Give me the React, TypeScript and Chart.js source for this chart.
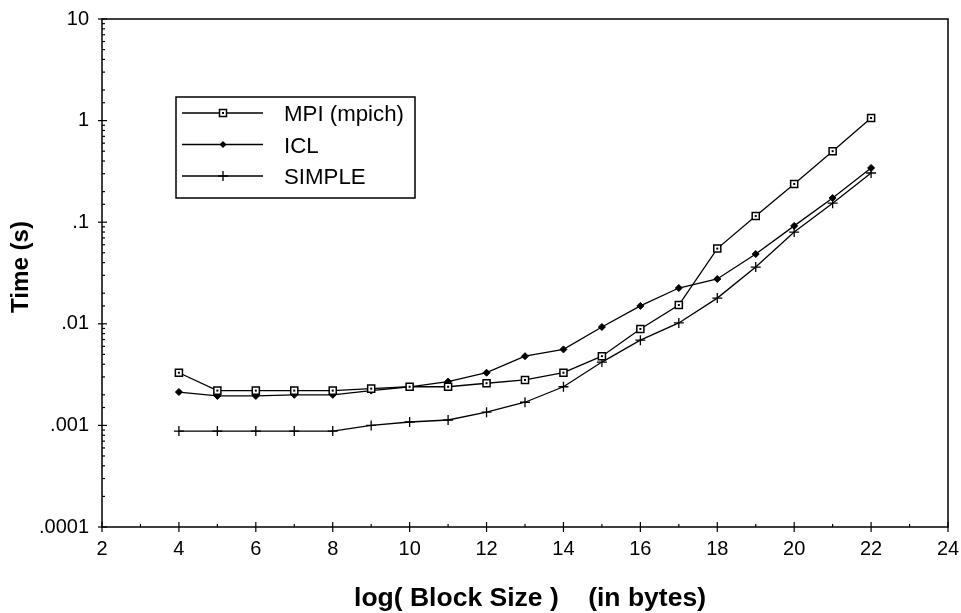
import React, { useEffect, useRef } from "react";
import { Chart, registerables } from "chart.js";

Chart.register(...registerables);

const blockSizes = [4, 5, 6, 7, 8, 9, 10, 11, 12, 13, 14, 15, 16, 17, 18, 19, 20, 21, 22];
const mpiTimes = [0.0033, 0.0022, 0.0022, 0.0022, 0.0022, 0.0023, 0.0024, 0.0024, 0.0026, 0.0028, 0.0033, 0.0048, 0.0089, 0.0153, 0.055, 0.115, 0.238, 0.5, 1.06];
const iclTimes = [0.00213, 0.00195, 0.00195, 0.002, 0.002, 0.0022, 0.0024, 0.0027, 0.0033, 0.0048, 0.0056, 0.0093, 0.015, 0.0225, 0.0276, 0.0486, 0.092, 0.173, 0.342];
const simpleTimes = [0.00088, 0.00088, 0.00088, 0.00088, 0.00088, 0.001, 0.00108, 0.00113, 0.00135, 0.00169, 0.0024, 0.0042, 0.0069, 0.0102, 0.0179, 0.0362, 0.08, 0.154, 0.305];
const seriesLabels = ["MPI (mpich)", "ICL", "SIMPLE"];
const xTickLabels = ["2", "4", "6", "8", "10", "12", "14", "16", "18", "20", "22", "24"];
const yTickLabels = [".0001", ".001", ".01", ".1", "1", "10"];
const xTitle = "log( Block Size )    (in bytes)";
const yTitle = "Time (s)";

const FONT = "'Liberation Sans', Arial, sans-serif";

const toPoints = (vals: number[]) => vals.map((v, i) => ({ x: blockSizes[i], y: v }));

function fitFont(ctx: CanvasRenderingContext2D, text: string, weight: string, target: number) {
  ctx.font = `${weight} 20px ${FONT}`;
  const w = ctx.measureText(text).width;
  const size = (20 * target) / w;
  ctx.font = `${weight} ${size.toFixed(2)}px ${FONT}`;
}

function drawMarker(ctx: CanvasRenderingContext2D, style: string, x: number, y: number) {
  ctx.save();
  ctx.strokeStyle = "#000";
  if (style === "rect") {
    ctx.lineWidth = 1.5;
    ctx.fillStyle = "#fff";
    ctx.fillRect(x - 3.5, y - 3.5, 7, 7);
    ctx.strokeRect(x - 3.5, y - 3.5, 7, 7);
    ctx.fillStyle = "#000";
    ctx.fillRect(x - 1, y - 1, 2, 2);
  } else if (style === "rectRot") {
    ctx.fillStyle = "#000";
    ctx.beginPath();
    ctx.moveTo(x, y - 3.5);
    ctx.lineTo(x + 3.5, y);
    ctx.lineTo(x, y + 3.5);
    ctx.lineTo(x - 3.5, y);
    ctx.closePath();
    ctx.fill();
  } else {
    ctx.lineWidth = 1.3;
    ctx.beginPath();
    ctx.moveTo(x - 5, y);
    ctx.lineTo(x + 5, y);
    ctx.moveTo(x, y - 5);
    ctx.lineTo(x, y + 5);
    ctx.stroke();
  }
  ctx.restore();
}

const framePlugin = {
  id: "frame",
  afterDraw(chart: any) {
    const { ctx, chartArea } = chart;
    const { left, right, top, bottom } = chartArea;
    ctx.save();
    ctx.strokeStyle = "#000";
    ctx.lineWidth = 1.5;
    ctx.strokeRect(left, top, right - left, bottom - top);

    // y ticks
    const ys = chart.scales.y;
    ctx.lineWidth = 1.2;
    ys.ticks.forEach((t: any) => {
      const p = ys.getPixelForValue(t.value);
      const lg = Math.log10(t.value);
      const major = Math.abs(lg - Math.round(lg)) < 1e-6;
      ctx.beginPath();
      ctx.moveTo(left - (major ? 4 : 0), p);
      ctx.lineTo(left + (major ? 5 : 3), p);
      ctx.stroke();
    });
    // x ticks
    const xs = chart.scales.x;
    xs.ticks.forEach((t: any) => {
      const p = xs.getPixelForValue(t.value);
      const major = t.value % 2 === 0;
      ctx.beginPath();
      ctx.moveTo(p, bottom + (major ? 5 : 0));
      ctx.lineTo(p, bottom - (major ? 5 : 3));
      ctx.stroke();
    });

    // axis titles
    ctx.fillStyle = "#000";
    ctx.textAlign = "center";
    ctx.textBaseline = "middle";
    fitFont(ctx, xTitle, "bold", 352);
    ctx.fillText(xTitle, 530, 599);
    ctx.save();
    ctx.translate(21, 267);
    ctx.rotate(-Math.PI / 2);
    fitFont(ctx, yTitle, "bold", 92);
    ctx.fillText(yTitle, 0, 0);
    ctx.restore();

    // legend
    const bx = 176, by = 97, bw = 239, bh = 101;
    ctx.fillStyle = "#fff";
    ctx.fillRect(bx, by, bw, bh);
    ctx.lineWidth = 1.5;
    ctx.strokeStyle = "#000";
    ctx.strokeRect(bx, by, bw, bh);
    fitFont(ctx, seriesLabels[0], "normal", 120);
    ctx.textAlign = "left";
    chart.data.datasets.forEach((ds: any, i: number) => {
      const y = by + 16 + i * 31.5;
      ctx.beginPath();
      ctx.lineWidth = 1.3;
      ctx.moveTo(bx + 6, y);
      ctx.lineTo(bx + 87, y);
      ctx.stroke();
      drawMarker(ctx, ds.pointStyle, bx + 47, y);
      ctx.fillStyle = "#000";
      ctx.fillText(ds.label, bx + 108, y + 2);
    });

    // inner dots in squares
    const meta = chart.getDatasetMeta(0);
    ctx.fillStyle = "#000";
    meta.data.forEach((pt: any) => {
      ctx.fillRect(pt.x - 1, pt.y - 1, 2, 2);
    });
    ctx.restore();
  },
};

export default function App() {
  const ref = useRef<HTMLCanvasElement | null>(null);
  useEffect(() => {
    document.body.style.margin = "0";
    const chart = new Chart(ref.current!, {
      type: "line",
      data: {
        datasets: [
          {
            label: seriesLabels[0],
            data: toPoints(mpiTimes),
            borderColor: "#000",
            borderWidth: 1.3,
            pointStyle: "rect",
            pointRadius: 5,
            pointBackgroundColor: "#fff",
            pointBorderColor: "#000",
            pointBorderWidth: 1.5,
          },
          {
            label: seriesLabels[1],
            data: toPoints(iclTimes),
            borderColor: "#000",
            borderWidth: 1.3,
            pointStyle: "rectRot",
            pointRadius: 3.5,
            pointBackgroundColor: "#000",
            pointBorderColor: "#000",
            pointBorderWidth: 1,
          },
          {
            label: seriesLabels[2],
            data: toPoints(simpleTimes),
            borderColor: "#000",
            borderWidth: 1.3,
            pointStyle: "cross",
            pointRadius: 5,
            pointBackgroundColor: "#000",
            pointBorderColor: "#000",
            pointBorderWidth: 1.3,
          },
        ],
      },
      options: {
        animation: false,
        responsive: false,
        devicePixelRatio: 1,
        layout: { padding: { top: 19, right: 13, left: 0, bottom: 0 } },
        plugins: { legend: { display: false }, tooltip: { enabled: false } },
        scales: {
          x: {
            type: "linear",
            min: 2,
            max: 24,
            grid: { display: false, drawTicks: false },
            border: { display: false },
            ticks: {
              stepSize: 1,
              autoSkip: false,
              maxRotation: 0,
              padding: 10,
              color: "#000",
              font: { family: FONT, size: 20 },
              callback: (v: any) => {
                const idx = xTickLabels.indexOf(String(v));
                return idx >= 0 ? xTickLabels[idx] : "";
              },
            },
            afterFit: (s: any) => {
              s.height = 86;
              s.paddingRight = 0;
            },
          },
          y: {
            type: "logarithmic",
            min: 0.0001,
            max: 10,
            grid: { display: false, drawTicks: false },
            border: { display: false },
            ticks: {
              autoSkip: false,
              padding: 13,
              color: "#000",
              font: { family: FONT, size: 20 },
              callback: (v: any) => {
                const lg = Math.log10(Number(v));
                if (Math.abs(lg - Math.round(lg)) > 1e-6) return "";
                return yTickLabels[Math.round(lg) + 4] ?? "";
              },
            },
            afterFit: (s: any) => {
              s.width = 102;
              s.paddingTop = 0;
              s.paddingBottom = 0;
            },
          },
        },
      },
      plugins: [framePlugin],
    } as any);
    return () => chart.destroy();
  }, []);
  return (
    <div style={{ position: "absolute", left: 0, top: 0, width: 961, height: 613, background: "#fff" }}>
      <canvas ref={ref} width={961} height={613} />
    </div>
  );
}
